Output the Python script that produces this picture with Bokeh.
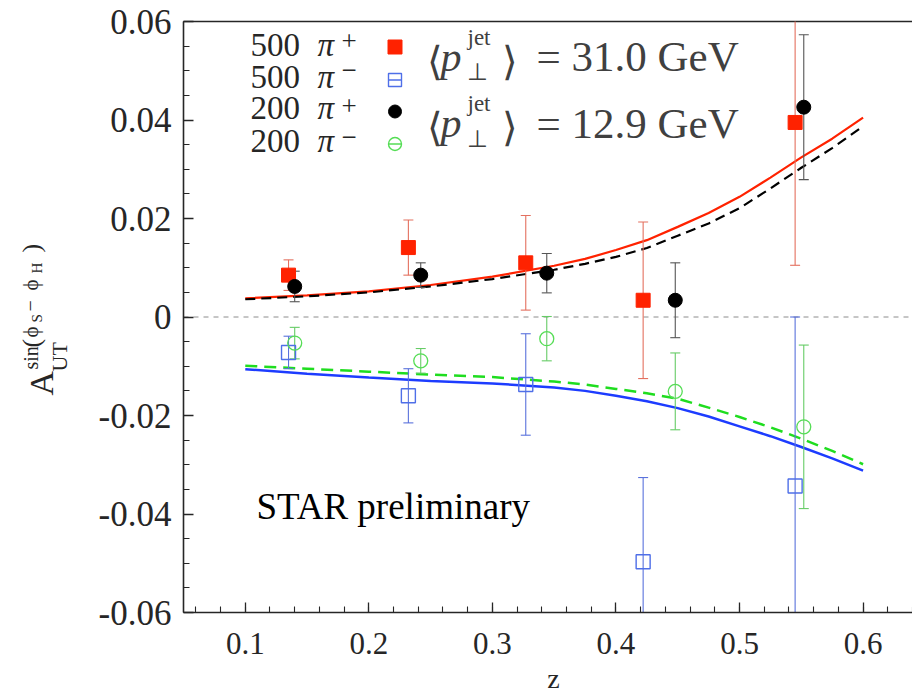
from math import pi
from bokeh.plotting import figure
from bokeh.models import FixedTicker, LinearAxis, Label, Range1d
from bokeh.embed import file_html
from bokeh.resources import INLINE

# ---------------- data ----------------
z_500 = [0.135, 0.232, 0.327, 0.422, 0.545]
z_200 = [0.140, 0.242, 0.344, 0.448, 0.552]

a_500_pip = [0.0085, 0.0141, 0.0110, 0.0034, 0.0395]
e_500_pip = [0.0031, 0.0056, 0.0096, 0.0159, 0.0290]
a_500_pim = [-0.0072, -0.0160, -0.0137, -0.0497, -0.0343]
e_500_pim = [0.0033, 0.0055, 0.0103, 0.0171, 0.0343]
a_200_pip = [0.0062, 0.0085, 0.0089, 0.0034, 0.0426]
e_200_pip = [0.0031, 0.0025, 0.0040, 0.0076, 0.0147]
a_200_pim = [-0.0053, -0.0089, -0.0044, -0.0151, -0.0223]
e_200_pim = [0.0032, 0.0025, 0.0045, 0.0078, 0.0166]

z_curve = [0.10, 0.15, 0.20, 0.25, 0.30, 0.35, 0.375, 0.40, 0.425, 0.45, 0.475,
           0.50, 0.525, 0.55, 0.575, 0.60]
curve_500_pip = [0.0038, 0.0044, 0.0052, 0.0065, 0.0082, 0.0104, 0.0118, 0.0136, 0.0156,
                 0.0183, 0.0211, 0.0244, 0.0283, 0.0324, 0.0362, 0.0405]
curve_200_pip = [0.0036, 0.0042, 0.0050, 0.0062, 0.0077, 0.0096, 0.0108, 0.0122, 0.0140,
                 0.0165, 0.0190, 0.0221, 0.0261, 0.0303, 0.0343, 0.0387]
curve_500_pim = [-0.0106, -0.0115, -0.0123, -0.0130, -0.0135, -0.0143, -0.0150, -0.0160,
                 -0.0171, -0.0185, -0.0202, -0.0222, -0.0242, -0.0264, -0.0287, -0.0312]
curve_200_pim = [-0.0099, -0.0105, -0.0111, -0.0117, -0.0122, -0.0131, -0.0137, -0.0146,
                 -0.0155, -0.0166, -0.0184, -0.0203, -0.0224, -0.0247, -0.0272, -0.0299]

x_ticks = [0.1, 0.2, 0.3, 0.4, 0.5, 0.6]
x_tick_labels = ["0.1", "0.2", "0.3", "0.4", "0.5", "0.6"]
y_ticks = [-0.06, -0.04, -0.02, 0.0, 0.02, 0.04, 0.06]
y_tick_labels = ["-0.06", "-0.04", "-0.02", "0", "0.02", "0.04", "0.06"]

legend_energy = ["500", "500", "200", "200"]
legend_charge = ["+", "\u2212", "+", "\u2212"]
jet_pt = ["31.0", "12.9"]

# ---------------- layout / style ----------------
W, H = 912, 697
FL, FR, FT, FB = 183, 912, 21, 612          # plot box in pixels
X0, X1 = 0.05, 0.64
Y0, Y1 = -0.06, 0.06
SX = (FR - FL) / (X1 - X0)
SY = (FB - FT) / (Y1 - Y0)

RED = "#ff2200"
RED_ERR = "#e4705f"
BLUE_M = "#4f6fe8"
BLUE_ERR = "#5a72dc"
BLUE_C = "#1d3cff"
GREEN_M = "#55dd55"
GREEN_ERR = "#66cc66"
GREEN_C = "#1fdd1f"
INK = "#262626"
GRAY = "#404040"
SERIF = "Liberation Serif"


def px2x(px):
    return X0 + (px - FL) / SX


def py2y(py):
    return Y1 - (py - FT) / SY


p = figure(width=W, height=H, title=None,
           x_range=Range1d(X0 - FL / SX, X1 + (W - FR) / SX),
           y_range=Range1d(Y0 - (H - FB) / SY, Y1 + FT / SY),
           output_backend="svg", toolbar_location=None,
           x_axis_location=None, y_axis_location=None,
           min_border=0, min_border_left=0, min_border_right=0,
           min_border_top=0, min_border_bottom=0)
p.outline_line_color = None
p.xgrid.visible = False
p.ygrid.visible = False
p.background_fill_color = "white"
p.border_fill_color = "white"

minor_x = [round(0.06 + 0.02 * i, 2) for i in range(0, 30)]
minor_y = [round(-0.06 + 0.005 * i, 3) for i in range(0, 25)]


def style_axis(ax, ticks, labels, minor):
    ax.ticker = FixedTicker(ticks=ticks, minor_ticks=minor)
    ax.major_label_overrides = {t: l for t, l in zip(ticks, labels)}
    ax.axis_line_color = INK
    ax.axis_line_width = 1.6
    ax.major_tick_line_color = INK
    ax.minor_tick_line_color = INK
    ax.major_tick_line_width = 1.3
    ax.minor_tick_line_width = 1.1
    ax.major_tick_in = 10
    ax.major_tick_out = 0
    ax.minor_tick_in = 6
    ax.minor_tick_out = 0
    ax.major_label_text_font = SERIF
    ax.major_label_text_color = INK


xax = LinearAxis(fixed_location=Y0, bounds=(X0, X1))
style_axis(xax, x_ticks, x_tick_labels, minor_x)
xax.major_label_text_font_size = "31px"
xax.major_label_standoff = 20
p.add_layout(xax, "below")

yax = LinearAxis(fixed_location=X0, bounds=(Y0, Y1))
style_axis(yax, y_ticks, y_tick_labels, minor_y)
yax.major_label_text_font_size = "35px"
yax.major_label_standoff = 12
p.add_layout(yax, "left")

# top frame line and zero reference line
p.segment(x0=[X0], y0=[Y1], x1=[X1], y1=[Y1], line_color=INK, line_width=1.6)
p.segment(x0=[X0], y0=[0.0], x1=[X1], y1=[0.0], line_color="#8c8c8c",
          line_dash="5 5", line_width=1)

# ---------------- curves ----------------
p.line(z_curve, curve_500_pip, line_color=RED, line_width=2.2)
p.line(z_curve, curve_200_pip, line_color="black", line_width=2.2, line_dash="10 6")
p.line(z_curve, curve_500_pim, line_color=BLUE_C, line_width=2.5)
p.line(z_curve, curve_200_pim, line_color=GREEN_C, line_width=2.5, line_dash="12 7")


# ---------------- error bars (clipped to the plot box) ----------------
def errorbars(z, a, e, color):
    lo = [ai - ei for ai, ei in zip(a, e)]
    hi = [ai + ei for ai, ei in zip(a, e)]
    p.segment(x0=z, y0=[max(v, Y0) for v in lo], x1=z, y1=[min(v, Y1) for v in hi],
              line_color=color, line_width=1.1)
    cx = [zi for zi, v in zip(list(z) + list(z), lo + hi) if Y0 <= v <= Y1]
    cy = [v for v in lo + hi if Y0 <= v <= Y1]
    p.scatter(x=cx, y=cy, marker="dash", size=10, line_color=color, line_width=1.1)


errorbars(z_500, a_500_pip, e_500_pip, RED_ERR)
errorbars(z_200, a_200_pip, e_200_pip, "#555555")
errorbars(z_500, a_500_pim, e_500_pim, BLUE_ERR)
errorbars(z_200, a_200_pim, e_200_pim, GREEN_ERR)

# ---------------- markers ----------------
p.scatter(z_500, a_500_pip, marker="square", size=14, fill_color=RED, line_color=RED)
p.scatter(z_500, a_500_pim, marker="square", size=14, fill_color=None,
          line_color=BLUE_M, line_width=1.4)
p.scatter(z_200, a_200_pip, marker="circle", size=14, fill_color="black", line_color="black")
p.scatter(z_200, a_200_pim, marker="circle", size=14, fill_color=None,
          line_color=GREEN_M, line_width=1.3)


# ---------------- text helpers ----------------
BASE_FIX = 0.29   # compensates the label's baseline placement (fraction of font size)


def lab(px, py, text, size, font=SERIF, style="normal", color=INK, angle=0,
        align="left", baseline="alphabetic"):
    k = BASE_FIX * size
    if angle == 0:
        py = py - k
    else:
        px = px - k
    p.add_layout(Label(x=px2x(px), y=py2y(py), text=text, text_font=font,
                       text_font_size=f"{size}px", text_font_style=style,
                       text_color=color, angle=angle, text_align=align,
                       text_baseline=baseline))


# ---------------- legend ----------------
row_base = [54, 86.5, 117, 150]
charge_mid = [39.5, 68.5, 104, 135]
mark_y = [46.5, 79.5, 111, 143.5]
for i in range(4):
    lab(250, row_base[i], legend_energy[i], 33)
    lab(317, row_base[i], "\u03c0", 33, style="italic")
    lab(341, charge_mid[i] + 9, legend_charge[i], 27)

MX = px2x(394.5)
p.scatter([MX], [py2y(mark_y[0])], marker="square", size=14, fill_color=RED, line_color=RED)
p.scatter([MX], [py2y(mark_y[1])], marker="square", size=13, fill_color=None,
          line_color=BLUE_M, line_width=1.4)
p.scatter([MX], [py2y(mark_y[1])], marker="dash", size=13, line_color=BLUE_M, line_width=1.4)
p.scatter([MX], [py2y(mark_y[2])], marker="circle", size=13, fill_color="black", line_color="black")
p.scatter([MX], [py2y(mark_y[3])], marker="circle", size=13, fill_color=None,
          line_color=GREEN_M, line_width=1.4)
p.scatter([MX], [py2y(mark_y[3])], marker="dash", size=13, line_color=GREEN_M, line_width=1.4)

for base, pt in zip([68.5, 135], jet_pt):
    lab(426, base + 4, "\u27e8", 40, color=GRAY)
    lab(440, base, "p", 42, style="italic", color=GRAY)
    lab(467, base - 25, "jet", 23, color=GRAY)
    lab(466, base + 10, "\u22a5", 24, color=GRAY)
    lab(501, base + 4, "\u27e9", 40, color=GRAY)
    lab(536, base, "= " + pt + " GeV", 43, color=GRAY)

# ---------------- annotation ----------------
lab(256, 517, "STAR preliminary", 37, color="black")

# ---------------- axis titles ----------------
lab(553, 686, "z", 28, align="center")

A = pi / 2
YL = -3   # horizontal shift of the rotated y title
lab(54 + YL, 395, "A", 34, angle=A)
lab(68 + YL, 371, "UT", 22, angle=A)
lab(39 + YL, 369, "sin", 20, angle=A)
lab(42 + YL, 347, "(", 26, angle=A)
lab(40 + YL, 337, "\u03d5", 21, angle=A)
lab(44 + YL, 322, "S", 15, angle=A)
lab(38 + YL, 311, "\u2212", 20, angle=A)
lab(40 + YL, 290, "\u03d5", 21, angle=A)
lab(44 + YL, 273, "H", 15, angle=A)
lab(42 + YL, 252, ")", 26, angle=A)

open("out.html", "w").write(file_html(p, INLINE))
